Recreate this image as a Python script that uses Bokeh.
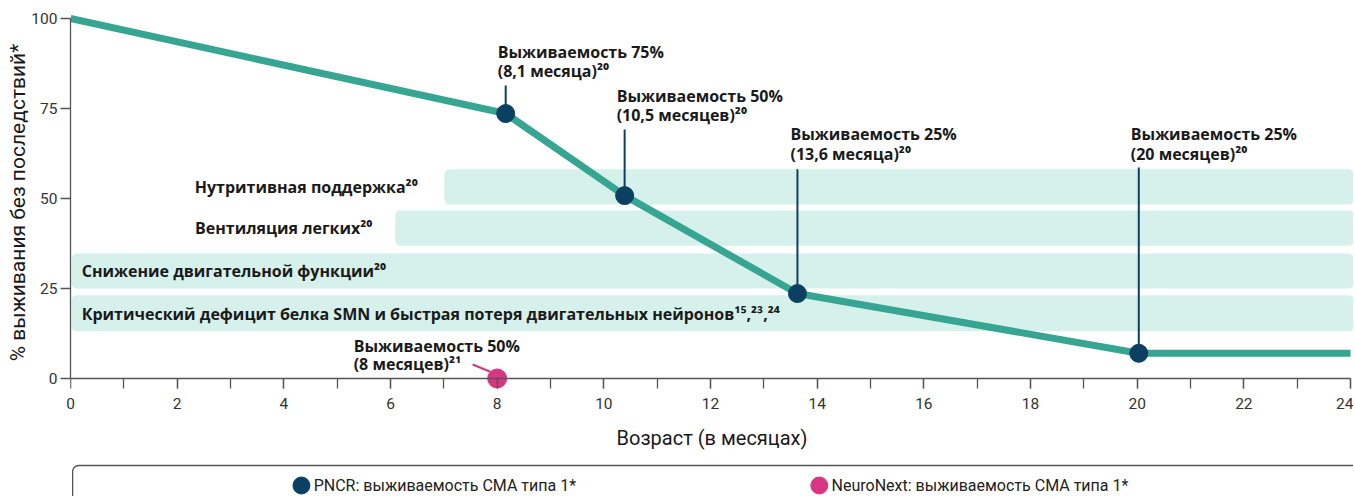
from bokeh.plotting import figure
from bokeh.models import Range1d, SingleIntervalTicker, FixedTicker, LinearAxis
from bokeh.layouts import column
from bokeh.embed import file_html
from bokeh.resources import INLINE
from bokeh.core.properties import value

# ---------------- data ----------------
# PNCR survival curve (age in months, % event-free survival)
pncr_age = [0, 8.16, 10.39, 13.63, 20.03, 24.0]
pncr_surv = [100, 73.6, 50.8, 23.6, 7.0, 7.0]

# highlighted PNCR points and their annotation stems
dot_age = [8.16, 10.39, 13.63, 20.03]
dot_surv = [73.6, 50.8, 23.6, 7.0]
stem_top = [81.4, 69.2, 58.1, 58.6]

ann_line1 = ["Выживаемость 75%", "Выживаемость 50%", "Выживаемость 25%", "Выживаемость 25%"]
ann_line2 = ["(8,1 месяца)²⁰", "(10,5 месяцев)²⁰", "(13,6 месяца)²⁰", "(20 месяцев)²⁰"]
ann_x = [8.01, 10.24, 13.50, 19.88]
ann_y1 = [90.8, 78.6, 67.8, 67.8]
ann_y2 = [85.4, 73.3, 62.5, 62.5]

# NeuroNext point
nn_age = [8.0]
nn_surv = [0.0]
nn_line1 = ["Выживаемость 50%"]
nn_line2 = ["(8 месяцев)²¹"]
nn_ann_x = [5.31]
nn_ann_y1 = [8.9]
nn_ann_y2 = [3.9]
nn_ptr_x0, nn_ptr_y0, nn_ptr_x1, nn_ptr_y1 = [7.54], [3.9], [7.88], [1.8]

# clinical phase bands
band_labels = ["Нутритивная поддержка²⁰",
               "Вентиляция легких²⁰",
               "Снижение двигательной функции²⁰",
               "Критический дефицит белка SMN и быстрая потеря двигательных нейронов¹⁵,²³,²⁴"]
band_left = [7.01, 6.09, 0.02, 0.02]
band_right = [24.06, 24.06, 24.06, 24.06]
band_top = [58.1, 46.7, 34.7, 23.1]
band_bottom = [48.3, 36.9, 25.0, 13.1]
band_label_x = [6.51, 5.66, 0.21, 0.21]
band_label_y = [53.1, 41.7, 30.0, 17.8]
band_label_align = ["right", "right", "left", "left"]

x_tick_interval = 2
y_ticks = [0, 25, 50, 75, 100]

legend_labels = ["PNCR: выживаемость СМА типа 1*", "NeuroNext: выживаемость СМА типа 1*"]

# ---------------- styles ----------------
TEAL = "#36a592"
BAND = "#d6f1eb"
NAVY = "#0b4063"
PINK = "#d93682"
TXT = "#1a1a1a"
AX = "#555555"
BOLD_FONT = "Open Sans"
LIGHT_FONT = "Roboto"
X_RANGE = (0, 24.056)
FIG_W = 1353

p = figure(width=FIG_W, height=463, output_backend="svg", toolbar_location=None,
           x_range=Range1d(*X_RANGE), y_range=Range1d(-3.611, 101.39),
           min_border_left=70, min_border_right=0, min_border_top=13, min_border_bottom=72)
p.outline_line_color = None
p.xgrid.visible = False
p.ygrid.visible = False

# bands
p.quad(left=band_left, right=band_right, top=band_top, bottom=band_bottom,
       fill_color=BAND, line_color=None, border_radius=5)

for lbl, bx, by, al in zip(band_labels, band_label_x, band_label_y, band_label_align):
    p.text(x=[bx], y=[by], text=[lbl], text_align=al, text_baseline="middle",
           text_font=value(BOLD_FONT), text_font_style="bold", text_font_size="16px",
           text_color=TXT)

# survival line
p.line(pncr_age, pncr_surv, line_color=TEAL, line_width=7, line_join="round")

# stems / pointer
p.segment(x0=dot_age, y0=stem_top, x1=dot_age, y1=dot_surv, line_color=NAVY, line_width=2)
p.segment(x0=nn_ptr_x0, y0=nn_ptr_y0, x1=nn_ptr_x1, y1=nn_ptr_y1, line_color=PINK, line_width=2)

# dots
p.scatter(dot_age, dot_surv, size=18, fill_color=NAVY, line_color=NAVY)
p.scatter(nn_age, nn_surv, size=19, fill_color=PINK, line_color=PINK)

# annotations
for xs, y1, y2, l1, l2 in [(ann_x, ann_y1, ann_y2, ann_line1, ann_line2),
                           (nn_ann_x, nn_ann_y1, nn_ann_y2, nn_line1, nn_line2)]:
    for ys, ls in ((y1, l1), (y2, l2)):
        p.text(x=xs, y=ys, text=ls, text_align="left", text_baseline="middle",
               text_font=value(BOLD_FONT), text_font_style="bold", text_font_size="16px",
               text_color=TXT)

# x axis: tick labels and title from the default axis at the frame bottom
xa = p.xaxis[0]
xa.ticker = SingleIntervalTicker(interval=x_tick_interval, num_minor_ticks=2)
xa.axis_label = "Возраст (в месяцах)"
xa.axis_label_text_font = LIGHT_FONT
xa.axis_label_text_font_style = "normal"
xa.axis_label_text_font_size = "20px"
xa.axis_label_text_color = TXT
xa.axis_label_standoff = 14
xa.major_label_text_font = LIGHT_FONT
xa.major_label_text_font_size = "15.5px"
xa.major_label_text_color = "#333333"
xa.major_label_standoff = 6
xa.major_tick_out = 0
xa.major_tick_in = 0
xa.minor_tick_out = 0
xa.minor_tick_in = 0
xa.axis_line_color = None
xa.major_tick_line_color = None
xa.minor_tick_line_color = None

# x axis rule and ticks sitting at 0 %
xr = LinearAxis(fixed_location=0, bounds=(0, 24),
                ticker=SingleIntervalTicker(interval=x_tick_interval, num_minor_ticks=2))
xr.major_label_text_color = None
xr.major_label_text_font_size = "1px"
xr.major_label_standoff = 0
xr.major_tick_out = 10
xr.major_tick_in = 0
xr.minor_tick_out = 10
xr.minor_tick_in = 0
xr.axis_line_color = AX
xr.major_tick_line_color = AX
xr.minor_tick_line_color = AX
xr.axis_line_width = 1.3
xr.major_tick_line_width = 1.3
xr.minor_tick_line_width = 1.3
p.add_layout(xr, "below")

ya = p.yaxis[0]
ya.bounds = (0, 100)
ya.ticker = FixedTicker(ticks=y_ticks)
ya.axis_label = "% выживания без последствий*"
ya.axis_label_text_font = LIGHT_FONT
ya.axis_label_text_font_style = "normal"
ya.axis_label_text_font_size = "21px"
ya.axis_label_text_color = TXT
ya.axis_label_standoff = -2
ya.major_label_text_font = LIGHT_FONT
ya.major_label_text_font_size = "15.5px"
ya.major_label_text_color = "#333333"
ya.major_label_standoff = 3
ya.major_tick_out = 10
ya.major_tick_in = 0
ya.minor_tick_line_color = None
ya.axis_line_color = AX
ya.major_tick_line_color = AX
ya.axis_line_width = 1.3
ya.major_tick_line_width = 1.3

# ---------------- legend strip ----------------
lg = figure(width=FIG_W, height=33, output_backend="svg", toolbar_location=None,
            x_range=Range1d(*X_RANGE), y_range=Range1d(0, 33),
            x_axis_location=None, y_axis_location=None,
            min_border_left=70, min_border_right=0, min_border_top=0, min_border_bottom=0)
lg.outline_line_color = None
lg.xgrid.visible = False
lg.ygrid.visible = False
lg.quad(left=[0.04], right=[30], top=[31], bottom=[-40], fill_color=None,
        line_color=AX, line_width=1.3, border_radius=6)
legend_x = [4.33, 14.04]
legend_y = [11, 11]
legend_colors = [NAVY, PINK]
lg.scatter(legend_x, legend_y, size=17, fill_color=legend_colors, line_color=legend_colors)
lg.text(x=[v + 0.23 for v in legend_x], y=legend_y, text=legend_labels, text_align="left",
        text_baseline="middle", text_font=value(LIGHT_FONT), text_font_size="16px",
        text_color="#222222")

layout = column(p, lg, spacing=0)
open("out.html", "w").write(file_html(layout, INLINE))
